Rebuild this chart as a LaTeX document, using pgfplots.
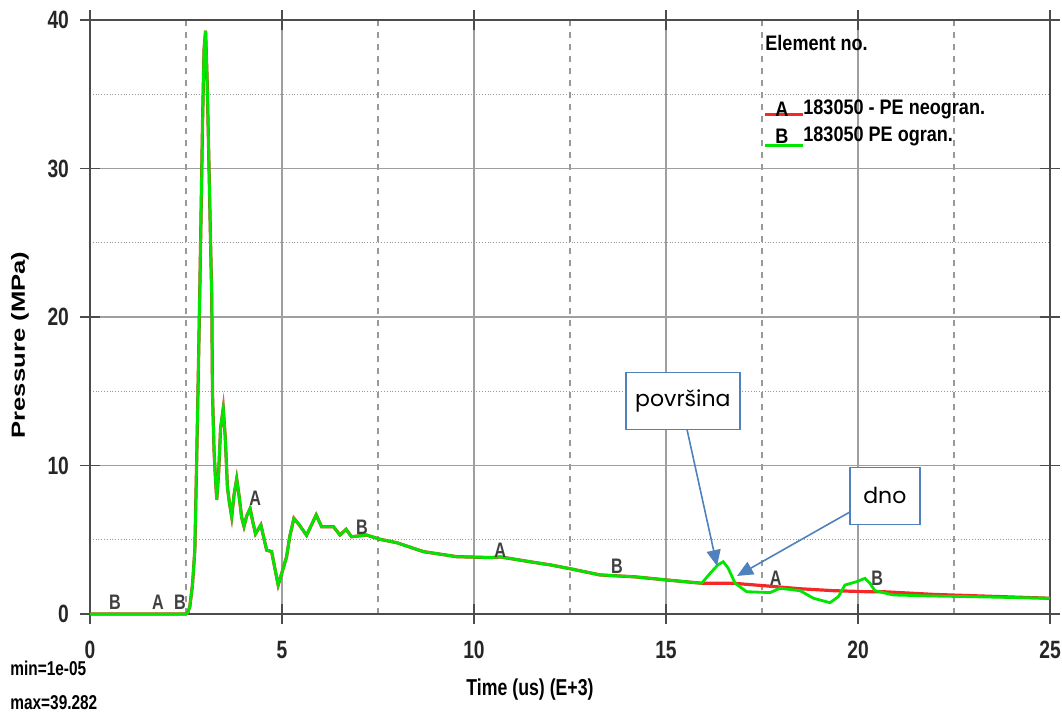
\documentclass[border=0pt]{standalone}
\usepackage{fontspec}
\setmainfont{Liberation Sans}
\newfontfamily\nar{Liberation Sans}[FakeStretch=0.77]
\newfontfamily\narb{Liberation Sans}[FakeStretch=0.86]
\newfontfamily\wide{Liberation Sans}[FakeStretch=1.35]
\newfontfamily\gothic{Poppins}
\usepackage{pgfplots}
\pgfplotsset{compat=1.18}
\usetikzlibrary{arrows.meta}
\definecolor{gr}{RGB}{0,230,0}
\definecolor{rd}{RGB}{245,40,40}
\definecolor{callout}{RGB}{79,129,189}
\pgfplotstableread{
x y
0 0
2.50 0
2.55 0.1
2.60 0.5
2.67 2
2.73 4.3
2.78 10.6
2.84 18.9
2.88 25
2.93 33
2.97 38
3.01 39.28
3.05 36
3.10 30
3.14 25
3.17 21.4
3.19 14.9
3.23 11
3.26 9.5
3.30 7.7
3.35 9.5
3.40 12.5
3.47 13.85
3.52 12
3.58 8.5
3.63 7.5
3.69 6.55
3.75 8
3.82 9.1
3.88 8
3.95 6.5
4.01 5.9
4.08 6.6
4.17 7.1
4.24 6.2
4.31 5.4
4.38 5.7
4.45 6.0
4.52 5.2
4.60 4.3
4.73 4.2
4.82 3.0
4.90 1.95
5.00 2.8
5.12 3.86
5.20 5.2
5.31 6.44
5.45 6.0
5.64 5.3
5.75 5.9
5.89 6.67
6.03 5.88
6.34 5.88
6.51 5.32
6.67 5.7
6.81 5.2
7.20 5.32
7.55 5.03
7.99 4.8
8.68 4.2
9.55 3.86
10.42 3.8
10.70 3.84
11.50 3.5
12.00 3.3
12.50 3.05
13.28 2.63
14.20 2.5
15.02 2.29
15.93 2.07
}\common
\pgfplotstableread{
x y
15.93 2.07
16.75 2.07
17.62 1.89
18.49 1.70
19.36 1.57
20.23 1.50
20.66 1.50
21.96 1.32
23.70 1.17
25.00 1.06
}\redtail
\pgfplotstableread{
x y
15.93 2.07
16.15 2.74
16.35 3.30
16.49 3.52
16.62 3.08
16.80 2.07
17.10 1.50
17.71 1.44
17.97 1.73
18.49 1.57
18.84 1.06
19.27 0.76
19.49 1.17
19.66 1.95
19.97 2.18
20.18 2.40
20.31 2.07
20.44 1.57
20.92 1.28
21.96 1.21
22.83 1.17
25.00 1.06
}\greentail
\begin{document}
\begin{tikzpicture}
\useasboundingbox (-45pt,-51pt) rectangle (486pt,307pt);
\begin{axis}[
  scale only axis, width=480pt, height=297pt,
  at={(0,0)}, anchor=south west,
  xmin=0, xmax=25, ymin=0, ymax=40,
  xtick={0,5,...,25}, ytick={0,10,...,40},
  minor xtick={2.5,7.5,...,22.5}, minor ytick={5,15,...,35},
  grid=both,
  major grid style={gray!75, line width=0.8pt},
  minor x grid style={gray!80, dashed, line width=0.6pt},
  minor y grid style={gray!80, densely dotted, line width=0.6pt},
  axis line style={black!70, line width=1pt},
  tick align=center, major tick length=10pt, minor tick length=0pt,
  tick style={black!70, line width=0.8pt},
  /pgf/number format/assume math mode=true,
  tick label style={font=\nar\bfseries\fontsize{12.5}{14}\selectfont, text=black!85},
  xticklabel style={yshift=-5pt},
  yticklabel style={xshift=-2pt},
  clip=false,
]
\addplot[rd, line width=1.6pt] table[x=x,y=y]{\common};
\addplot[rd, line width=1.6pt] table[x=x,y=y]{\redtail};
\addplot[gr, line width=1.4pt] table[x=x,y=y]{\common};
\addplot[gr, line width=1.4pt] table[x=x,y=y]{\greentail};
\begin{scope}[every node/.style={font=\nar\bfseries\fontsize{10.5}{12}\selectfont, text=black!75}]
\node at (axis cs:0.65,0.8) {B};
\node at (axis cs:1.77,0.8) {A};
\node at (axis cs:2.34,0.8) {B};
\node at (axis cs:4.30,7.8) {A};
\node at (axis cs:7.08,5.86) {B};
\node at (axis cs:10.68,4.31) {A};
\node at (axis cs:13.72,3.23) {B};
\node at (axis cs:17.86,2.42) {A};
\node at (axis cs:20.5,2.42) {B};
\end{scope}
\node[draw=callout, line width=0.8pt, fill=white, minimum width=57pt, minimum height=28.5pt, inner sep=0pt, font=\gothic\fontsize{11}{13}\selectfont] at (axis cs:15.44,14.34) {površina};
\node[draw=callout, line width=0.8pt, fill=white, minimum width=35pt, minimum height=28.5pt, inner sep=0pt, font=\gothic\fontsize{11}{13}\selectfont] at (axis cs:20.70,7.95) {dno};
\draw[callout, line width=0.8pt, -{Triangle[length=8pt,width=7pt]}] (axis cs:15.55,12.39) -- (axis cs:16.33,3.23);
\draw[callout, line width=0.8pt, -{Triangle[length=8pt,width=7pt]}] (axis cs:19.79,6.87) -- (axis cs:16.85,2.56);
\end{axis}
% legend
\node[anchor=west, inner sep=0pt, font=\narb\bfseries\fontsize{10.5}{12}\selectfont] at (337.5pt,285.5pt) {Element no.};
\draw[rd, line width=1.5pt] (337.5pt,249.5pt) -- (356.5pt,249.5pt);
\draw[gr, line width=1.5pt] (337.5pt,234pt) -- (356.5pt,234pt);
\node[inner sep=0pt, font=\narb\bfseries\fontsize{10.5}{12}\selectfont] at (346pt,252.5pt) {A};
\node[inner sep=0pt, font=\narb\bfseries\fontsize{10.5}{12}\selectfont] at (346pt,239pt) {B};
\node[anchor=west, inner sep=0pt, font=\narb\bfseries\fontsize{10.5}{12}\selectfont] at (356.5pt,252.5pt) {183050 - PE neogran.};
\node[anchor=west, inner sep=0pt, font=\narb\bfseries\fontsize{10.5}{12}\selectfont] at (356.5pt,239pt) {183050 PE ogran.};
% axis labels
\node[font=\nar\bfseries\fontsize{11.5}{13}\selectfont] at (220pt,-38pt) {Time (us) (E+3)};
\node[rotate=90, font=\wide\bfseries\fontsize{9.5}{11}\selectfont] at (-35pt,134.5pt) {Pressure (MPa)};
\node[anchor=west, inner sep=0pt, font=\nar\bfseries\fontsize{10}{12}\selectfont] at (-40pt,-27pt) {min=1e-05};
\node[anchor=west, inner sep=0pt, font=\nar\bfseries\fontsize{10}{12}\selectfont] at (-40pt,-44.5pt) {max=39.282};
\end{tikzpicture}
\end{document}
